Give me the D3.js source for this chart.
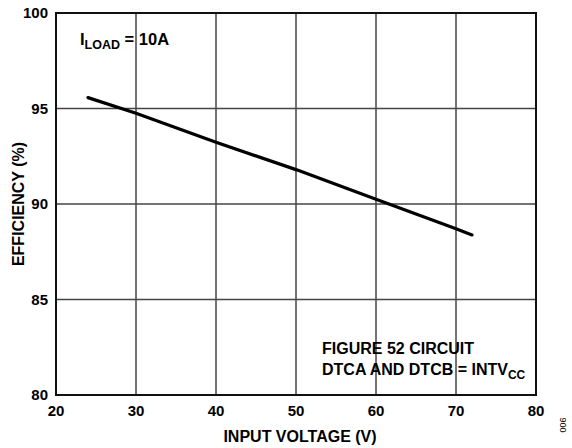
<!DOCTYPE html>
<html>
<head>
<meta charset="utf-8">
<script src="https://cdn.jsdelivr.net/npm/d3@7"></script>
<style>
  body { margin: 0; background: #fff; }
  text { font-family: "Liberation Sans", Arial, sans-serif; font-weight: bold; fill: #000; }
</style>
</head>
<body>
<div id="chart"></div>
<script>
"use strict";

// efficiency vs input voltage
var vin = [24, 30, 40, 50, 60, 70, 72];
var efficiency = [95.57, 94.75, 93.23, 91.8, 90.25, 88.7, 88.38];
var xTicks = [20, 30, 40, 50, 60, 70, 80];
var yTicks = [80, 85, 90, 95, 100];

var width = 572, height = 448;
var margin = { top: 13, right: 36, bottom: 53, left: 56 };

var svg = d3.select("#chart")
  .append("svg")
  .attr("width", width)
  .attr("height", height);

var x = d3.scaleLinear().domain([20, 80]).range([margin.left, width - margin.right]);
var y = d3.scaleLinear().domain([80, 100]).range([height - margin.bottom, margin.top]);

// grid
svg.append("g")
  .selectAll("line.vgrid")
  .data(xTicks.slice(1, -1))
  .enter()
  .append("line")
  .attr("x1", function(d) { return x(d); })
  .attr("x2", function(d) { return x(d); })
  .attr("y1", y(100))
  .attr("y2", y(80))
  .style("stroke", "#444")
  .style("stroke-width", 1.5);

svg.append("g")
  .selectAll("line.hgrid")
  .data(yTicks.slice(1, -1))
  .enter()
  .append("line")
  .attr("x1", x(20))
  .attr("x2", x(80))
  .attr("y1", function(d) { return y(d); })
  .attr("y2", function(d) { return y(d); })
  .style("stroke", "#444")
  .style("stroke-width", 1.5);

// frame
svg.append("rect")
  .attr("x", x(20))
  .attr("y", y(100))
  .attr("width", x(80) - x(20))
  .attr("height", y(80) - y(100))
  .style("fill", "none")
  .style("stroke", "#111")
  .style("stroke-width", 2);

// tick labels
svg.append("g")
  .selectAll("text")
  .data(xTicks)
  .enter()
  .append("text")
  .attr("x", function(d) { return x(d); })
  .attr("y", y(80) + 21)
  .attr("text-anchor", "middle")
  .style("font-size", "15px")
  .text(function(d) { return d; });

svg.append("g")
  .selectAll("text")
  .data(yTicks)
  .enter()
  .append("text")
  .attr("x", x(20) - 8)
  .attr("y", function(d) { return y(d) + 5; })
  .attr("text-anchor", "end")
  .style("font-size", "15px")
  .text(function(d) { return d; });

// axis titles
svg.append("text")
  .attr("x", 300)
  .attr("y", 442)
  .attr("text-anchor", "middle")
  .style("font-size", "16px")
  .text("INPUT VOLTAGE (V)");

svg.append("text")
  .attr("transform", "translate(24," + y(90) + ") rotate(-90)")
  .attr("text-anchor", "middle")
  .style("font-size", "16px")
  .text("EFFICIENCY (%)");

svg.append("text")
  .attr("transform", "translate(566,425) rotate(-90)")
  .attr("text-anchor", "middle")
  .style("font-size", "9px")
  .style("font-weight", "normal")
  .text("006");

// curve
var line = d3.line()
  .x(function(d, i) { return x(vin[i]); })
  .y(function(d) { return y(d); });

svg.append("path")
  .datum(efficiency)
  .attr("d", line)
  .style("fill", "none")
  .style("stroke", "#000")
  .style("stroke-width", 3.2)
  .style("stroke-linecap", "round");

// annotations
var t1 = svg.append("text")
  .attr("x", 80)
  .attr("y", 45)
  .style("font-size", "16.5px");
t1.append("tspan").text("I");
t1.append("tspan").attr("dy", 4).style("font-size", "12.5px").text("LOAD");
t1.append("tspan").attr("dy", -4).text(" = 10A");

svg.append("text")
  .attr("x", 322)
  .attr("y", 354)
  .style("font-size", "16px")
  .text("FIGURE 52 CIRCUIT");

var t2 = svg.append("text")
  .attr("x", 322)
  .attr("y", 375)
  .style("font-size", "16px");
t2.append("tspan").text("DTCA AND DTCB = INTV");
t2.append("tspan").attr("dy", 4).style("font-size", "12px").text("CC");
</script>
</body>
</html>
